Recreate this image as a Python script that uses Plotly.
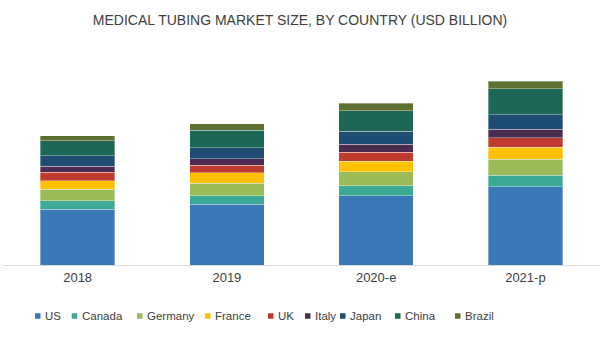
import plotly.graph_objects as go

years = ["2018", "2019", "2020-e", "2021-p"]
countries = ["US", "Canada", "Germany", "France", "UK", "Italy", "Japan", "China", "Brazil"]
us = [2.80, 3.05, 3.47, 3.92]
canada = [0.42, 0.42, 0.50, 0.58]
germany = [0.58, 0.62, 0.70, 0.78]
france = [0.42, 0.52, 0.53, 0.60]
uk = [0.42, 0.37, 0.43, 0.48]
italy = [0.30, 0.33, 0.40, 0.43]
japan = [0.53, 0.55, 0.67, 0.73]
china = [0.75, 0.87, 1.02, 1.30]
brazil = [0.25, 0.33, 0.37, 0.37]
series = [us, canada, germany, france, uk, italy, japan, china, brazil]
colors = ["#3B78B8", "#3AAA94", "#9BBB59", "#FFC000", "#BF3B2E",
          "#4B2C50", "#1F4C73", "#1E6656", "#5E7133"]

# legend layout (pixel positions of each legend square's left edge)
legend_px = [35, 71.7, 137, 205, 268, 305, 340, 395, 455]

W, H = 600, 349
ML, MR, MT, MB = 3, 0, 40, 84
pw = W - ML - MR
ph = H - MT - MB

fig = go.Figure()
for name, vals, col in zip(countries, series, colors):
    fig.add_trace(go.Bar(
        x=years, y=vals, name=name, showlegend=False,
        marker=dict(color=col, line=dict(color="rgba(255,255,255,0.35)", width=1)),
    ))

leg_py = 316
sq = 5.5
for name, col, px in zip(countries, colors, legend_px):
    x0 = (px - ML) / pw
    x1 = (px + sq - ML) / pw
    y0 = (H - MB - (leg_py + sq / 2)) / ph
    y1 = (H - MB - (leg_py - sq / 2)) / ph
    fig.add_shape(type="rect", xref="paper", yref="paper", x0=x0, x1=x1, y0=y0, y1=y1,
                  fillcolor=col, line=dict(width=0))
    fig.add_annotation(xref="paper", yref="paper", x=(px + sq + 2.5 - ML) / pw,
                       y=(H - MB - leg_py) / ph, text=name, showarrow=False,
                       xanchor="left", yanchor="middle",
                       font=dict(size=11.5, color="#404040"))

fig.update_layout(
    barmode="stack",
    bargap=0.5,
    width=W, height=H,
    margin=dict(l=ML, r=MR, t=MT, b=MB),
    paper_bgcolor="white", plot_bgcolor="white",
    font=dict(family="Liberation Sans, Arial, sans-serif", color="#404040", size=12),
    title=dict(text="MEDICAL TUBING MARKET SIZE, BY COUNTRY (USD BILLION)",
               x=0.5, xanchor="center", y=0.943, yanchor="middle",
               font=dict(family="Liberation Sans Narrow, Liberation Sans, Arial", size=14, color="#404040")),
    xaxis=dict(showline=True, linecolor="#D9D9D9", linewidth=1, ticks="",
               tickfont=dict(size=13, color="#404040"), showgrid=False, fixedrange=True),
    yaxis=dict(visible=False, range=[0, ph / 20], showgrid=False),
    showlegend=False,
)

fig.write_html("out.html")
